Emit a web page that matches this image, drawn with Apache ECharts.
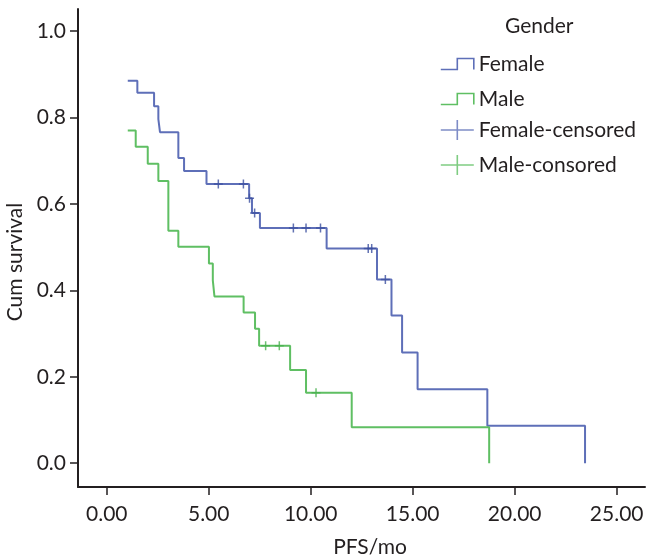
<!DOCTYPE html>
<html><head><meta charset="utf-8">
<script src="https://cdn.jsdelivr.net/npm/echarts@6/dist/echarts.min.js"></script>
<style>html,body{margin:0;padding:0;background:#fff}#c{width:648px;height:558px}</style>
</head><body><div id="c"></div>
<script>
// Tick labels
const xTicks = [0, 5, 10, 15, 20, 25];
const yTicks = [0, 0.2, 0.4, 0.6, 0.8, 1.0];

// Kaplan-Meier step data (time in months, cumulative survival)
const femaleTimes = [1.03, 1.50, 2.32, 2.53, 2.61, 3.51, 3.79, 4.89, 6.98, 7.12, 7.51, 10.78, 13.25, 13.96, 14.48, 15.24, 18.66, 23.45];
const femaleSurv  = [0.885, 0.857, 0.826, 0.796, 0.766, 0.706, 0.676, 0.646, 0.613, 0.579, 0.544, 0.497, 0.425, 0.342, 0.256, 0.171, 0.087, 0];
const maleTimes = [1.03, 1.42, 2.01, 2.53, 3.02, 3.51, 5.01, 5.20, 5.28, 6.71, 7.27, 7.47, 8.99, 9.77, 12.01, 18.75];
const maleSurv  = [0.770, 0.732, 0.693, 0.653, 0.538, 0.501, 0.462, 0.423, 0.386, 0.349, 0.311, 0.272, 0.216, 0.163, 0.083, 0];

// Censored observations
const femaleCensorTimes = [5.47, 6.70, 7.00, 7.25, 9.15, 9.77, 10.48, 12.82, 12.99, 13.66];
const femaleCensorSurv  = [0.646, 0.646, 0.613, 0.579, 0.544, 0.544, 0.544, 0.497, 0.497, 0.425];
const maleCensorTimes = [7.79, 8.46, 10.26];
const maleCensorSurv  = [0.272, 0.272, 0.163];

const seriesNames = ['Female', 'Male', 'Female-censored', 'Male-consored'];
const legendTitle = 'Gender';

const FONT = 'Lato';
const TXT = '#231f20';
const BLUE = '#5e6fb8';
const GREEN = '#5fbf63';
const BLUE_D = '#3b4f9f';
const GREEN_D = '#47b04e';

const zip = (a, b) => a.map((v, i) => [v, b[i]]);
const stepIcon = 'path://M0,10H15V0H30V10';
const plusIcon = 'path://M0,10H30M15,0V20';
const plusSym = 'path://M0,5H10M5,0V10';

const chart = echarts.init(document.getElementById('c'), null, {renderer: 'canvas'});
chart.setOption({
  animation: false,
  backgroundColor: '#fff',
  title: {
    text: legendTitle, left: 505, top: 15, padding: 0,
    textStyle: {fontFamily: FONT, fontSize: 21, fontWeight: 'normal', color: TXT, lineHeight: 22}
  },
  legend: [
    {
      orient: 'vertical', left: 440, top: 53, padding: 0, itemWidth: 33, itemHeight: 11, itemGap: 13,
      symbolKeepAspect: false, selectedMode: false,
      textStyle: {fontFamily: FONT, fontSize: 21, color: TXT, lineHeight: 22},
      data: [
        {name: seriesNames[0], icon: stepIcon, itemStyle: {color: 'rgba(0,0,0,0)', borderColor: BLUE, borderWidth: 1.6}},
        {name: seriesNames[1], icon: stepIcon, itemStyle: {color: 'rgba(0,0,0,0)', borderColor: GREEN, borderWidth: 1.6}}
      ]
    },
    {
      orient: 'vertical', left: 440, top: 119, padding: 0, itemWidth: 33, itemHeight: 20, itemGap: 13,
      symbolKeepAspect: false, selectedMode: false,
      textStyle: {fontFamily: FONT, fontSize: 21, color: TXT, lineHeight: 22},
      data: [
        {name: seriesNames[2], icon: plusIcon, itemStyle: {color: 'rgba(0,0,0,0)', borderColor: BLUE, borderWidth: 1.6}},
        {name: seriesNames[3], icon: plusIcon, itemStyle: {color: 'rgba(0,0,0,0)', borderColor: GREEN, borderWidth: 1.6}}
      ]
    }
  ],
  grid: {left: 78, right: 3, top: 9, bottom: 71, outerBoundsMode: 'none', containLabel: false},
  xAxis: {
    type: 'value', min: -1.41, max: 26.39,
    name: 'PFS/mo', nameLocation: 'middle', nameGap: 50,
    nameTextStyle: {fontFamily: FONT, fontSize: 21, color: TXT, padding: [0, 0, 0, 17]},
    axisLine: {onZero: false, lineStyle: {color: TXT, width: 2}},
    axisTick: {show: true, length: 8, customValues: xTicks, lineStyle: {color: TXT, width: 1.5}},
    axisLabel: {customValues: xTicks, formatter: v => v.toFixed(2), margin: 17,
      fontFamily: FONT, fontSize: 21, color: TXT},
    splitLine: {show: false}
  },
  yAxis: {
    type: 'value', min: -0.055, max: 1.051,
    name: 'Cum survival', nameLocation: 'middle', nameGap: 39,
    nameTextStyle: {fontFamily: FONT, fontSize: 21, color: TXT, padding: [0, 28, 0, 0]},
    axisLine: {show: true, onZero: false, lineStyle: {color: TXT, width: 2}},
    axisTick: {show: true, length: 8, customValues: yTicks, lineStyle: {color: TXT, width: 1.5}},
    axisLabel: {customValues: yTicks, formatter: v => v.toFixed(1), margin: 12,
      fontFamily: FONT, fontSize: 21, color: TXT},
    splitLine: {show: false}
  },
  series: [
    {name: seriesNames[0], type: 'line', step: 'end', showSymbol: false, symbol: 'none',
      data: zip(femaleTimes, femaleSurv), lineStyle: {color: BLUE, width: 2}, itemStyle: {color: BLUE}, z: 2},
    {name: seriesNames[1], type: 'line', step: 'end', showSymbol: false, symbol: 'none',
      data: zip(maleTimes, maleSurv), lineStyle: {color: GREEN, width: 2}, itemStyle: {color: GREEN}, z: 2},
    {name: seriesNames[2], type: 'scatter', symbol: plusSym, symbolSize: [9, 9],
      data: zip(femaleCensorTimes, femaleCensorSurv),
      itemStyle: {color: 'rgba(0,0,0,0)', borderColor: BLUE_D, borderWidth: 1.5}, z: 3},
    {name: seriesNames[3], type: 'scatter', symbol: plusSym, symbolSize: [9, 9],
      data: zip(maleCensorTimes, maleCensorSurv),
      itemStyle: {color: 'rgba(0,0,0,0)', borderColor: GREEN_D, borderWidth: 1.5}, z: 3}
  ]
});
</script>
</body></html>
